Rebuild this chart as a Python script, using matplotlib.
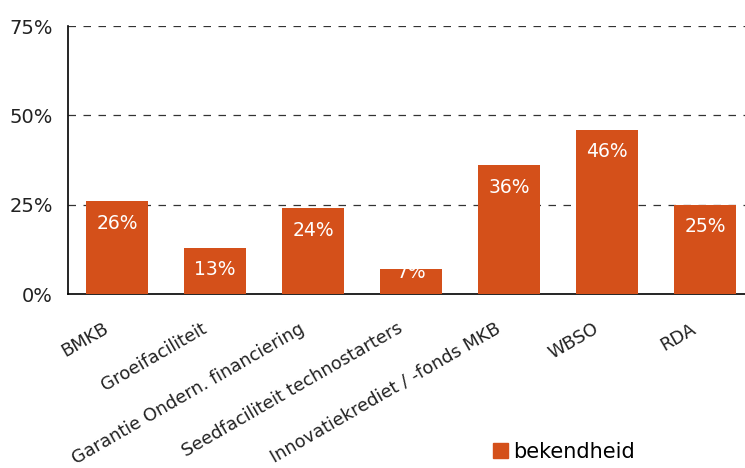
import matplotlib
matplotlib.use("Agg")
import matplotlib.pyplot as plt
from matplotlib.patches import Patch
from matplotlib.transforms import ScaledTranslation

categories = ["BMKB", "Groeifaciliteit", "Garantie Ondern. financiering",
              "Seedfaciliteit technostarters", "Innovatiekrediet / -fonds MKB",
              "WBSO", "RDA"]
values = [26, 13, 24, 7, 36, 46, 25]
yticks = [0, 25, 50, 75]
series_name = "bekendheid"
color = "#D4501A"

plt.rcParams['font.family'] = ['DejaVu Sans']
fig = plt.figure(figsize=(7.45, 4.68), dpi=100)
ax = fig.add_axes([68/745, 1 - 294/468, (754 - 68)/745, (294 - 26)/468])

x = list(range(len(categories)))
ax.bar(x, values, width=0.63, color=color, zorder=3)
for xi, v in zip(x, values):
    ypos = max(v - 6.2, 5.9)
    ax.text(xi, ypos, f"{v}%", ha="center", va="center", color="white",
            fontsize=13.5, zorder=4)

ax.set_xlim(-0.5, len(categories) - 0.5)
ax.set_ylim(0, 75)
ax.set_yticks(yticks)
ax.set_yticklabels([f"{t}%" for t in yticks], fontsize=14, color="#222222")
ax.set_xticks(x)
ax.set_xticklabels(categories, rotation=30, ha="right", va="center",
                   rotation_mode="anchor", fontsize=12.8, color="#222222")
ax.tick_params(axis="both", length=0)
ax.tick_params(axis="y", pad=11)
ax.tick_params(axis="x", pad=24)
off = ScaledTranslation(-10/100, 0, fig.dpi_scale_trans)
for lbl in ax.get_xticklabels():
    lbl.set_transform(lbl.get_transform() + off)
for t in yticks[1:]:
    ax.axhline(t, color="#333333", linestyle=(0, (6, 6)), linewidth=0.9, zorder=1)
ax.spines["right"].set_visible(False)
ax.spines["top"].set_visible(False)
ax.spines["left"].set_linewidth(1.2)
ax.spines["bottom"].set_linewidth(1.2)

fig.legend(handles=[Patch(color=color, label=series_name)],
           loc="center left", bbox_to_anchor=(483/745, 1 - 452/468),
           frameon=False, fontsize=15, handlelength=0.7, handleheight=0.7,
           handletextpad=0.25, borderpad=0)

fig.savefig("out.png", dpi=100)
